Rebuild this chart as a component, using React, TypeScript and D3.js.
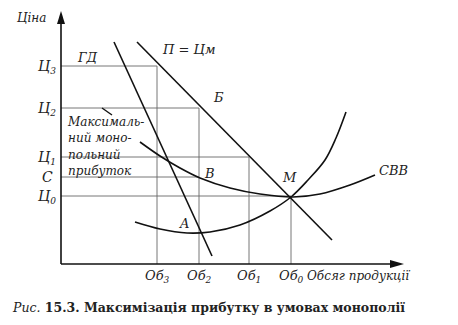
import React from "react";
import * as d3 from "d3";

// quantities (units along the x axis)
const qLabels = ["3", "2", "1", "0"];
const qValues = [96, 138, 188, 230];
// prices (units along the y axis)
const pLabels = [
  { base: "Ц", sub: "3", v: 198 },
  { base: "Ц", sub: "2", v: 156 },
  { base: "Ц", sub: "1", v: 107 },
  { base: "C", sub: "", v: 87 },
  { base: "Ц", sub: "0", v: 68 },
];
// horizontal guides: [price, quantity end]
const hGuides: [number, number][] = [
  [198, 96],
  [156, 138],
  [107, 188],
  [87, 138],
  [68, 230],
];
// vertical guides: [quantity, price top]
const vGuides: [number, number][] = [
  [96, 198],
  [138, 156],
  [188, 107],
  [230, 68],
];
// demand П = Цм
const demand: [number, number][] = [
  [76, 222],
  [271, 24],
];
// marginal revenue ГД
const marginalRevenue: [number, number][] = [
  [53, 222],
  [151, 8],
];
// marginal cost
const marginalCost: [number, number][] = [
  [74, 42],
  [99, 35],
  [126, 31],
  [149, 32],
  [179, 39],
  [209, 53],
  [230, 67],
  [247, 84],
  [264, 104],
  [275, 126],
  [285, 152],
];
// average total cost СВВ
const avgCost: [number, number][] = [
  [79, 122],
  [99, 108],
  [119, 96],
  [139, 86],
  [169, 76],
  [199, 70],
  [232, 67],
  [259, 70],
  [289, 79],
  [314, 89],
];

const W = 458;
const H = 325;

export default function App() {
  const x = d3.scaleLinear().domain([0, 340]).range([61, 401]);
  const y = d3.scaleLinear().domain([0, 245]).range([264, 19]);
  const line = d3
    .line<[number, number]>()
    .x((d) => x(d[0]))
    .y((d) => y(d[1]));
  const curve = d3
    .line<[number, number]>()
    .x((d) => x(d[0]))
    .y((d) => y(d[1]))
    .curve(d3.curveCatmullRom.alpha(0.5));

  const serif = "'DejaVu Serif', 'Liberation Serif', serif";
  const lab = { fontFamily: serif, fontStyle: "italic" as const, fontSize: 13, fill: "#222" };

  return (
    <svg
      width={W}
      height={H}
      style={{ position: "absolute", left: 0, top: 0, background: "#fff" }}
    >
      {/* guides */}
      {hGuides.map(([p, q], i) => (
        <line key={"h" + i} x1={x(0)} x2={x(q)} y1={y(p)} y2={y(p)} stroke="#666" strokeWidth={0.9} />
      ))}
      {vGuides.map(([q, p], i) => (
        <line key={"v" + i} x1={x(q)} x2={x(q)} y1={y(p)} y2={y(0)} stroke="#666" strokeWidth={0.9} />
      ))}
      {/* axes */}
      <line x1={x(0)} x2={x(0)} y1={y(0)} y2={22} stroke="#111" strokeWidth={1.6} />
      <line x1={x(0)} x2={394} y1={y(0)} y2={y(0)} stroke="#111" strokeWidth={1.6} />
      <path d={`M${x(0)},11 L${x(0) - 4},24 L${x(0) + 4},24 Z`} fill="#111" />
      <path d={`M404,${y(0)} L390,${y(0) - 4} L390,${y(0) + 4} Z`} fill="#111" />

      {/* curves */}
      <path d={line(demand) || ""} fill="none" stroke="#111" strokeWidth={1.6} />
      <path d={line(marginalRevenue) || ""} fill="none" stroke="#111" strokeWidth={1.6} />
      <path d={curve(marginalCost) || ""} fill="none" stroke="#111" strokeWidth={1.6} />
      <path d={curve(avgCost) || ""} fill="none" stroke="#111" strokeWidth={1.6} />
      {/* leader */}
      <line x1={102} y1={108} x2={112} y2={115} stroke="#111" strokeWidth={1.4} />

      {/* y labels */}
      <text x={17} y={22} {...lab} fontSize={12}>Ціна</text>
      {pLabels.map((d, i) => (
        <text key={"p" + i} x={d.sub ? 38 : 42} y={y(d.v) + 5} {...lab} fontSize={14}>
          {d.base}
          {d.sub && (
            <tspan fontSize={9} dy={3}>
              {d.sub}
            </tspan>
          )}
        </text>
      ))}
      {/* x labels */}
      {qValues.map((q, i) => (
        <text key={"q" + i} x={x(q) - 12} y={280} {...lab} fontSize={13}>
          Об
          <tspan fontSize={9} dy={3}>
            {qLabels[i]}
          </tspan>
        </text>
      ))}
      <text x={307} y={280} {...lab} fontSize={12}>Обсяг продукції</text>

      {/* point labels */}
      <text x={78} y={62} {...lab}>ГД</text>
      <text x={163} y={54} {...lab}>П = Цм</text>
      <text x={214} y={102} {...lab}>Б</text>
      <text x={205} y={178} {...lab}>В</text>
      <text x={283} y={182} {...lab}>M</text>
      <text x={180} y={228} {...lab}>A</text>
      <text x={379} y={175} {...lab}>СВВ</text>
      <text x={68} y={126} {...lab} fontSize={12}>Максималь-</text>
      <text x={68} y={142} {...lab} fontSize={12}>ний моно-</text>
      <text x={68} y={159} {...lab} fontSize={12}>польний</text>
      <text x={68} y={175} {...lab} fontSize={12}>прибуток</text>

      {/* caption */}
      <text x={13} y={312} fontFamily={serif} fontSize={12.5} fill="#222">
        <tspan fontStyle="italic">Рис.</tspan>
        <tspan fontWeight="bold"> 15.3. Максимізація прибутку в умовах монополії</tspan>
      </text>
    </svg>
  );
}
